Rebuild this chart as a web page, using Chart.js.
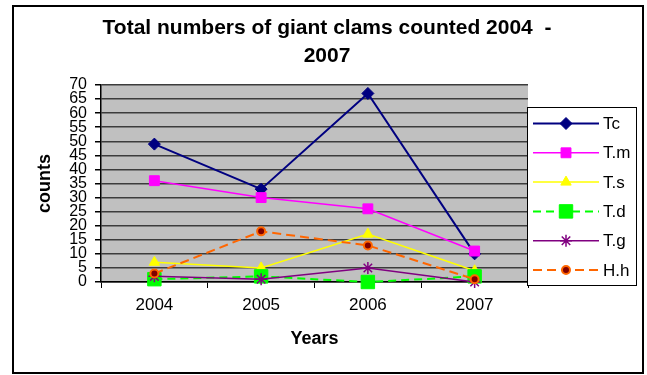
<!DOCTYPE html>
<html>
<head>
<meta charset="utf-8">
<title>Giant clams 2004 - 2007</title>
<script src="https://cdn.jsdelivr.net/npm/chart.js@4.4.0/dist/chart.umd.min.js"></script>
<style>
  html, body { margin: 0; padding: 0; background: #fff; }
  #wrap { width: 647px; height: 375px; }
</style>
</head>
<body>
<div id="wrap"><canvas id="clamChart" width="647" height="375"></canvas></div>
<script>
// counts per species, one value per survey year
var years = ['2004', '2005', '2006', '2007'];
var tc = [49, 33, 67, 10];
var tm = [36, 30, 26, 11];
var ts = [7, 5, 17, 4];
var td = [1, 2, 0, 2];
var tg = [2, 1, 5, 0];
var hh = [3, 18, 13, 1];
var titleLines = ['Total numbers of giant clams counted 2004  -', '2007'];

Chart.defaults.font.family = '"Liberation Sans", Arial, sans-serif';
Chart.defaults.color = '#000';

function series(label, values, color, style, radius, extra) {
  var ds = {
    label: label,
    data: values,
    borderColor: color,
    backgroundColor: color,
    borderWidth: 1.5,
    pointStyle: style,
    pointRadius: radius,
    pointHoverRadius: radius,
    pointBorderColor: color,
    pointBackgroundColor: color,
    pointBorderWidth: 1,
    tension: 0,
    clip: false
  };
  return Object.assign(ds, extra || {});
}

var datasets = [
  series('Tc', tc, '#000080', 'rectRot', 6, { borderWidth: 2 }),
  series('T.m', tm, '#ff00ff', 'rect', 7),
  series('T.s', ts, '#ffff00', 'triangle', 6),
  series('T.d', td, '#00ff00', 'rect', 9.5, { borderDash: [8, 5], borderWidth: 2 }),
  series('T.g', tg, '#800080', 'star', 6, { pointBorderWidth: 1.5, pointBackgroundColor: 'transparent' }),
  series('H.h', hh, '#ff6600', 'circle', 4, {
    borderDash: [9, 5], borderWidth: 2,
    pointBackgroundColor: '#800000', pointBorderColor: '#ff6600', pointBorderWidth: 2
  })
];
// later series sit on top of earlier ones
datasets.forEach(function (ds, i) { ds.order = datasets.length - i; });

// grey plot area, outer frame and the centred two-line heading
var frame = {
  id: 'frame',
  beforeDraw: function (chart) {
    var ctx = chart.ctx, a = chart.chartArea;
    ctx.save();
    ctx.fillStyle = '#fff';
    ctx.fillRect(0, 0, chart.width, chart.height);
    ctx.fillStyle = '#c0c0c0';
    ctx.fillRect(a.left, a.top, a.right - a.left, a.bottom - a.top);
    ctx.restore();
  },
  afterDraw: function (chart) {
    var ctx = chart.ctx;
    ctx.save();
    ctx.strokeStyle = '#000';
    ctx.lineWidth = 2;
    ctx.strokeRect(13, 6, 630, 367);
    ctx.fillStyle = '#000';
    ctx.font = 'bold 21px "Liberation Sans", Arial, sans-serif';
    ctx.textAlign = 'center';
    ctx.textBaseline = 'middle';
    titleLines.forEach(function (line, i) {
      ctx.fillText(line, 327, 28 + i * 28);
    });
    ctx.restore();
  }
};

// boxed legend to the right of the plot
var boxLegend = {
  id: 'boxLegend',
  afterDraw: function (chart) {
    var ctx = chart.ctx;
    var left = 527.5, top = 107.5, w = 109, h = 178;
    ctx.save();
    ctx.fillStyle = '#fff';
    ctx.fillRect(left, top, w, h);
    ctx.strokeStyle = '#000';
    ctx.lineWidth = 1;
    ctx.strokeRect(left, top, w, h);
    chart.data.datasets.forEach(function (ds, i) {
      var y = 123.5 + i * 29.3;
      ctx.save();
      ctx.strokeStyle = ds.borderColor;
      ctx.lineWidth = ds.borderWidth;
      ctx.setLineDash(ds.borderDash || []);
      ctx.beginPath();
      ctx.moveTo(533, y);
      ctx.lineTo(599, y);
      ctx.stroke();
      ctx.restore();
      ctx.save();
      ctx.fillStyle = ds.pointBackgroundColor;
      ctx.strokeStyle = ds.pointBorderColor;
      ctx.lineWidth = ds.pointBorderWidth;
      Chart.helpers.drawPoint(ctx, {
        pointStyle: ds.pointStyle,
        radius: ds.pointRadius,
        rotation: 0,
        borderWidth: ds.pointBorderWidth
      }, 566, y);
      ctx.restore();
      ctx.fillStyle = '#000';
      ctx.font = '17px "Liberation Sans", Arial, sans-serif';
      ctx.textAlign = 'left';
      ctx.textBaseline = 'middle';
      ctx.fillText(ds.label, 603, y + 1);
    });
    ctx.restore();
  }
};

new Chart(document.getElementById('clamChart'), {
  type: 'line',
  data: { labels: years, datasets: datasets },
  plugins: [frame, boxLegend],
  options: {
    responsive: false,
    animation: false,
    layout: { padding: { top: 85, right: 119, bottom: 0, left: 0 } },
    plugins: {
      legend: { display: false },
      tooltip: { enabled: false },
      title: { display: false }
    },
    scales: {
      x: {
        offset: true,
        afterFit: function (scale) { scale.height = 93; },
        grid: {
          offset: true,
          drawOnChartArea: false,
          tickLength: 6,
          tickColor: '#000',
          lineWidth: 1
        },
        border: { color: '#000', width: 1.5 },
        ticks: { font: { size: 17 }, padding: 7, color: '#000' },
        title: {
          display: true,
          text: 'Years',
          font: { size: 18, weight: 'bold' },
          padding: { top: 0, bottom: 25 }
        }
      },
      y: {
        min: 0,
        max: 70,
        afterFit: function (scale) { scale.width = 101; },
        grid: {
          color: '#3c3c3c',
          lineWidth: 1.5,
          tickLength: 6,
          tickColor: '#000'
        },
        border: { color: '#000', width: 1.5 },
        ticks: { stepSize: 5, autoSkip: false, font: { size: 16 }, padding: 8, color: '#000' },
        title: {
          display: true,
          text: 'counts',
          font: { size: 18, weight: 'bold' },
          padding: { top: 34, bottom: 0 }
        }
      }
    }
  }
});
</script>
</body>
</html>
